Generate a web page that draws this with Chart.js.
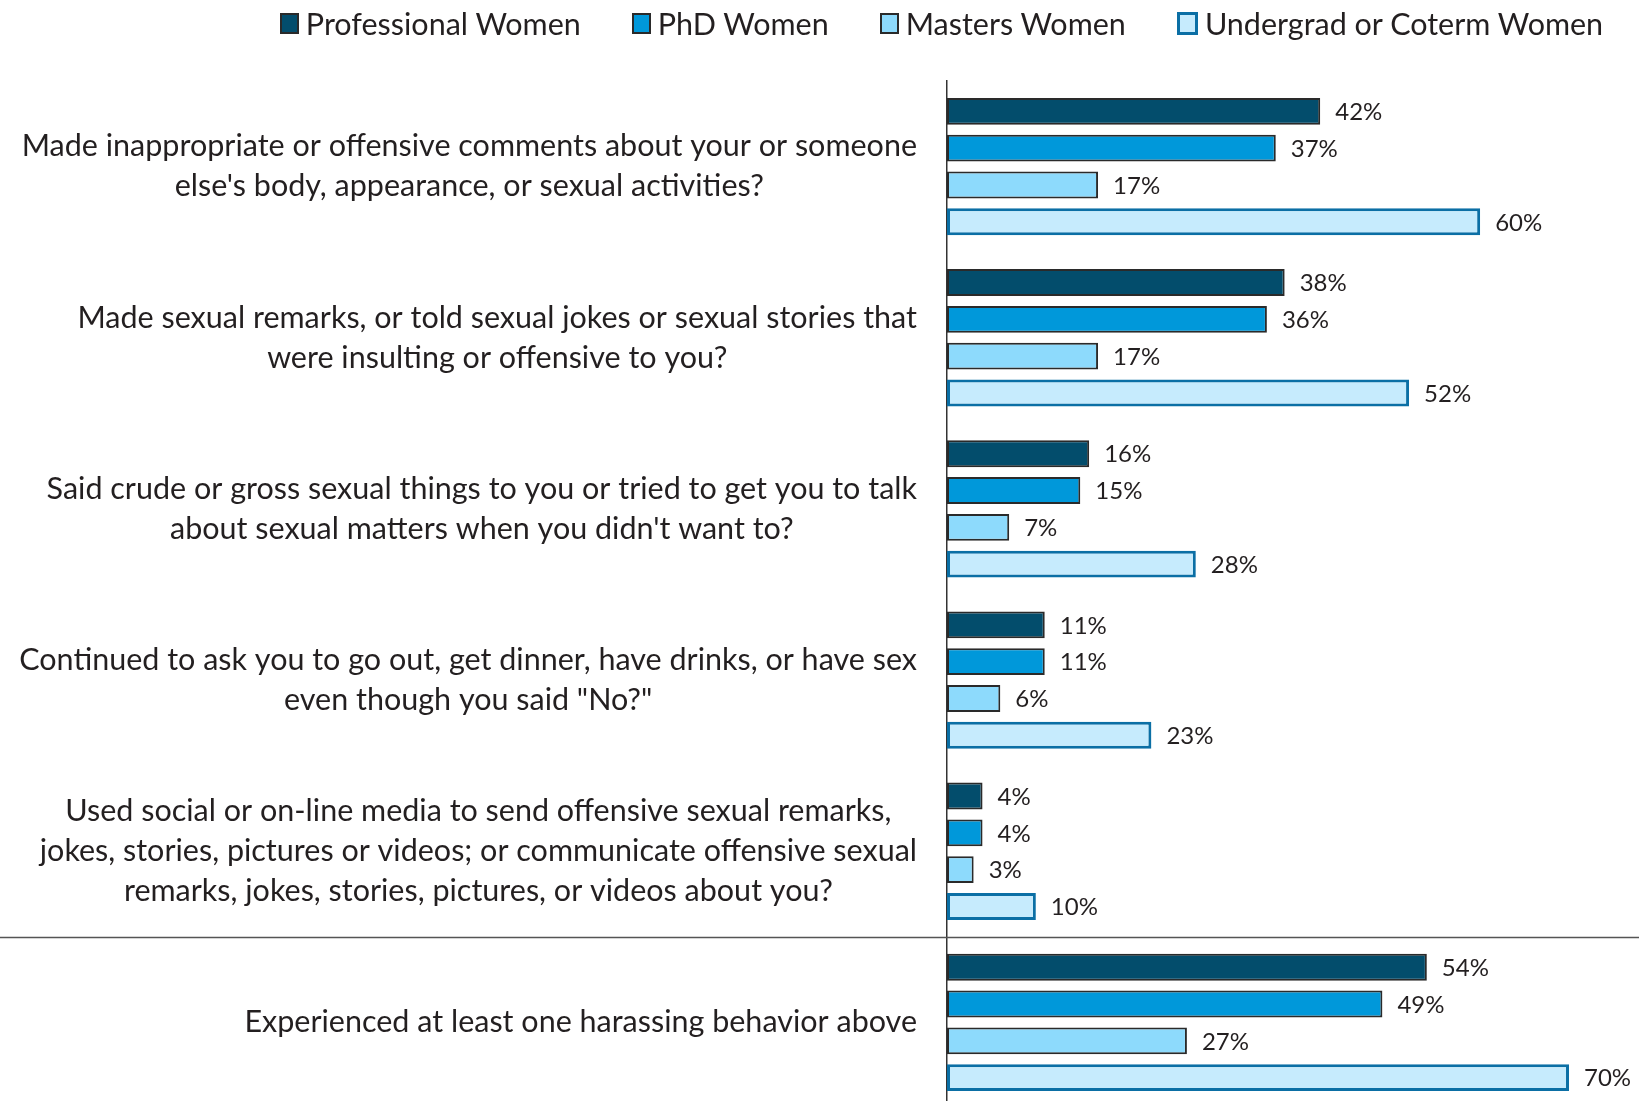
<!DOCTYPE html>
<html>
<head>
<meta charset="utf-8">
<script src="https://cdn.jsdelivr.net/npm/chart.js@4.4.1/dist/chart.umd.min.js"></script>
<style>
  html, body { margin: 0; padding: 0; background: #fff; overflow: hidden; }
  #wrap { position: relative; width: 1639px; height: 1108px; }
  #legend {
    position: absolute; top: 4px; left: 244px; right: 0;
    display: flex; justify-content: center; gap: 51px;
    font-family: Lato, sans-serif; font-size: 30.5px; color: #231f20; line-height: 38px;
  }
  #legend .item { display: flex; align-items: center; white-space: nowrap; }
  #legend .box { display: inline-block; width: 15px; height: 17px; margin-right: 7px; box-sizing: content-box; }
</style>
</head>
<body>
<div id="wrap">
  <canvas id="barChart" width="1639" height="1108"></canvas>
  <div id="legend"></div>
</div>
<script>
const questions = [
  ['Made inappropriate or offensive comments about your or someone', "else's body, appearance, or sexual activities?"],
  ['Made sexual remarks, or told sexual jokes or sexual stories that', 'were insulting or offensive to you?'],
  ['Said crude or gross sexual things to you or tried to get you to talk', "about sexual matters when you didn't want to?"],
  ['Continued to ask you to go out, get dinner, have drinks, or have sex', 'even though you said "No?"'],
  ['Used social or on-line media to send offensive sexual remarks,', 'jokes, stories, pictures or videos; or communicate offensive sexual', 'remarks, jokes, stories, pictures, or videos about you?'],
  'Experienced at least one harassing behavior above'
];
const seriesNames = ['Professional Women', 'PhD Women', 'Masters Women', 'Undergrad or Coterm Women'];
const professional = [42, 38, 16, 11, 4, 54];
const phd = [37, 36, 15, 11, 4, 49];
const masters = [17, 17, 7, 6, 3, 27];
const undergrad = [60, 52, 28, 23, 10, 70];

const textColor = '#231f20';

// value labels to the right of each bar
const valueLabels = {
  id: 'valueLabels',
  afterDatasetsDraw(chart) {
    const c = chart.ctx;
    c.save();
    c.font = '24px Lato';
    c.fillStyle = textColor;
    c.textBaseline = 'middle';
    chart.data.datasets.forEach((ds, i) => {
      chart.getDatasetMeta(i).data.forEach((bar, j) => {
        c.fillText(ds.data[j] + '%', bar.x + 15, bar.y + 1);
      });
    });
    c.restore();
  }
};

// question text: block pushed against the axis, lines centred inside it
const questionLabels = {
  id: 'questionLabels',
  afterDraw(chart) {
    const yScale = chart.scales.y;
    const c = chart.ctx;
    c.save();
    c.font = '30.5px Lato';
    c.fillStyle = textColor;
    c.textAlign = 'center';
    c.textBaseline = 'middle';
    const right = yScale.right - 30;
    chart.data.labels.forEach((lab, i) => {
      const lines = Array.isArray(lab) ? lab : [lab];
      const w = Math.max(...lines.map(l => c.measureText(l).width));
      const cx = right - w / 2;
      const cy = yScale.getPixelForTick(i);
      lines.forEach((l, k) => c.fillText(l, cx, cy + (k - (lines.length - 1) / 2) * 40));
    });
    c.restore();
  }
};

// line separating the summary row from the rest
const separator = {
  id: 'separator',
  afterDraw(chart) {
    const y = Math.round(chart.scales.y.getPixelForValue(4.5)) + 0.5;
    const c = chart.ctx;
    c.save();
    c.strokeStyle = '#555';
    c.lineWidth = 1.5;
    c.beginPath();
    c.moveTo(0, y);
    c.lineTo(chart.width, y);
    c.stroke();
    c.restore();
  }
};

const ctx = document.getElementById('barChart').getContext('2d');

const barChart = new Chart(ctx, {
  type: 'bar',
  data: {
    labels: questions,
    datasets: [
      { label: seriesNames[0], data: professional, backgroundColor: '#034d6c', borderColor: '#2a2a2a', borderWidth: 2 },
      { label: seriesNames[1], data: phd, backgroundColor: '#0098da', borderColor: '#2a2a2a', borderWidth: 2 },
      { label: seriesNames[2], data: masters, backgroundColor: '#8ddafc', borderColor: '#2a2a2a', borderWidth: 2 },
      { label: seriesNames[3], data: undergrad, backgroundColor: '#c6ebfd', borderColor: '#0b6fa5', borderWidth: 3 }
    ]
  },
  options: {
    indexAxis: 'y',
    responsive: false,
    animation: false,
    layout: { padding: { top: 81, right: 30, bottom: 0, left: 0 } },
    datasets: {
      bar: { categoryPercentage: 0.86, barPercentage: 0.73, borderSkipped: false }
    },
    scales: {
      x: { display: false, min: 0, max: 74.5 },
      y: {
        afterFit(scale) {
          scale.width = 947;
          scale.paddingTop = 0;
          scale.paddingBottom = 0;
        },
        grid: { display: false, drawTicks: false },
        border: { display: true, color: '#333', width: 1.5 },
        ticks: { display: false }
      }
    },
    plugins: {
      legend: { display: false },
      tooltip: { enabled: false }
    }
  },
  plugins: [valueLabels, questionLabels, separator]
});

// html legend built from the chart's datasets
const legendEl = document.getElementById('legend');
barChart.data.datasets.forEach(ds => {
  const item = document.createElement('span');
  item.className = 'item';
  const box = document.createElement('span');
  box.className = 'box';
  box.style.background = ds.backgroundColor;
  box.style.border = (ds.borderWidth > 2 ? 3 : 2) + 'px solid ' + ds.borderColor;
  item.appendChild(box);
  item.appendChild(document.createTextNode(ds.label));
  legendEl.appendChild(item);
});
</script>
</body>
</html>
